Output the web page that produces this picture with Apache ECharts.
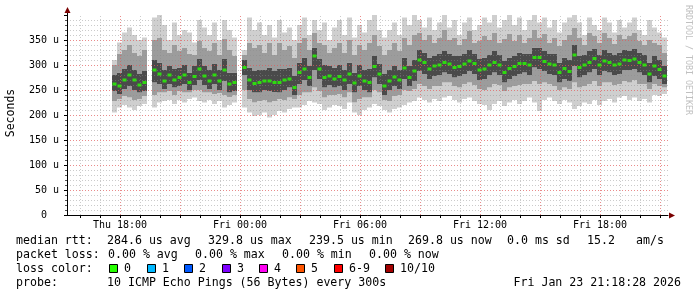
<!DOCTYPE html>
<html><head><meta charset="utf-8">
<script src="https://cdn.jsdelivr.net/npm/echarts@6/dist/echarts.min.js"></script>
<style>html,body{margin:0;padding:0;background:#fff}#c{width:697px;height:297px}</style>
</head><body><div id="c"></div>
<script>
// time of first sample, hours since Thu 00:00; sample step 15 min
const FIRST_SAMPLE_HOUR = 17.725;
const STEP_HOURS = 0.25;

// median RTT (us)
const median = [262,258,270,280,270,260,265,null,290,282,
268,280,270,275,280,265,277,292,278,268,
280,268,290,262,265,null,295,270,263,265,
268,268,265,265,270,272,255,285,292,275,
318,292,275,278,272,277,270,282,264,278,
268,265,297,282,258,268,276,270,294,275,
288,310,305,292,298,300,305,302,295,297,
302,308,303,290,292,300,305,300,285,293,
297,303,303,300,315,315,307,302,300,285,
293,287,320,295,300,305,313,300,308,305,
300,302,310,309,312,305,300,282,298,291,278];
// smoke band edges (us): outer (min/max), middle, inner
const lo1 = [205,215,220,215,210,218,222,null,215,225,
228,230,222,230,225,232,235,228,225,230,
222,228,215,220,225,null,215,205,198,200,
205,195,200,208,205,212,215,215,220,228,
225,222,210,215,220,218,212,225,205,200,
210,215,222,218,210,205,212,215,220,225,
228,235,230,225,232,228,235,238,230,225,
232,235,228,222,220,210,222,228,218,225,
230,222,228,235,225,208,230,235,228,222,
230,225,212,218,225,222,230,220,228,232,
225,235,238,230,235,228,232,225,240,238,242];
const lo2 = [228,232,238,235,230,232,238,null,240,245,
245,248,240,248,245,245,250,250,245,245,
242,244,240,236,240,null,250,232,225,228,
230,225,228,232,230,235,232,240,245,245,
255,248,235,240,240,242,235,245,225,232,
235,235,250,245,230,228,238,240,250,248,
252,262,258,252,258,258,265,265,258,255,
262,265,260,252,250,255,262,260,248,255,
258,260,262,262,268,262,265,262,258,250,
255,252,265,255,258,262,268,258,265,265,
260,262,268,265,270,262,262,252,262,258,255];
const lo3 = [248,242,252,258,250,245,248,null,265,262,
252,262,255,258,262,250,260,270,260,252,
262,250,268,245,248,null,280,250,245,245,
250,248,246,245,250,255,240,262,270,258,
290,272,255,260,255,258,250,262,245,258,
250,245,275,262,240,250,258,252,272,258,
268,288,282,272,278,280,285,282,275,278,
282,288,282,270,272,280,285,280,265,272,
278,282,285,280,295,292,288,282,280,265,
272,268,298,275,280,285,292,280,288,285,
280,282,290,290,292,285,280,265,278,272,262];
const hi3 = [280,285,292,300,290,282,288,null,310,305,
290,298,292,295,300,285,298,312,298,290,
302,290,312,285,285,null,310,295,288,290,
290,295,288,292,292,295,278,305,315,298,
335,312,300,298,295,300,290,305,285,300,
290,292,318,302,282,290,298,290,315,298,
310,330,325,315,318,322,328,322,318,318,
322,330,322,312,315,320,328,320,308,315,
318,325,322,322,335,335,328,322,322,305,
315,310,340,318,320,328,332,320,330,325,
320,325,330,328,332,325,320,305,318,310,298];
const hi2 = [300,322,330,340,325,318,330,null,350,355,
330,325,340,328,335,322,320,348,335,328,
345,320,352,330,318,null,320,345,335,340,
325,345,320,345,330,338,315,345,355,330,
365,345,340,325,335,345,325,350,320,340,
330,345,360,338,320,330,345,328,355,340,
360,365,350,360,345,355,370,350,355,340,
352,368,345,348,358,350,365,345,352,362,
348,360,345,355,370,355,362,345,355,338,
350,360,375,355,340,365,358,345,365,355,
342,360,352,358,365,348,340,350,345,340,325];
const hi1 = [310,345,365,375,360,350,355,null,395,400,
380,350,385,360,370,365,345,390,375,360,
385,350,390,370,355,null,330,395,370,385,
360,380,355,390,365,375,350,380,395,360,
390,370,385,350,375,390,360,395,355,380,
365,390,400,370,355,370,385,360,395,380,
400,390,375,395,370,385,400,375,390,360,
385,395,370,380,395,385,400,375,390,400,
380,395,370,390,400,385,395,375,390,365,
385,395,400,385,360,395,380,370,395,385,
365,390,375,385,395,370,360,390,375,365,355];

const xLabelHours = [18, 24, 30, 36, 42];
const xLabelTexts = ['Thu 18:00', 'Fri 00:00', 'Fri 06:00', 'Fri 12:00', 'Fri 18:00'];
const X_MIN = 15.35, X_MAX = 45.4;

const legendRtt = ['284.6 us avg', '329.8 us max', '239.5 us min', '269.8 us now', '0.0 ms sd', '15.2', 'am/s'];
const legendLoss = ['0.00 % avg', '0.00 % max', '0.00 % min', '0.00 % now'];
const lossLabels = ['0', '1', '2', '3', '4', '5', '6-9', '10/10'];
const lossColors = ['#26ff00', '#00b8ff', '#0059ff', '#7e00ff', '#ff00f3', '#ff5500', '#ff0000', '#a10000'];
const probeText = '10 ICMP Echo Pings (56 Bytes) every 300s';
const stampText = 'Fri Jan 23 21:18:28 2026';

const MONO = '"DejaVu Sans Mono", monospace';
const W = 697, H = 297;
const GRID = {left: 67, right: 29, top: 15, bottom: 82};
const plotW = W - GRID.left - GRID.right;
const pxPerHour = plotW / (X_MAX - X_MIN);
// sample slots: a category axis laid exactly over the sampled time span
const slotCats = median.map((_, i) => FIRST_SAMPLE_HOUR + i * STEP_HOURS);
const slotLeft = GRID.left + (FIRST_SAMPLE_HOUR - STEP_HOURS / 2 - X_MIN) * pxPerHour;
const slotWidth = median.length * STEP_HOURS * pxPerHour;

const val = arr => arr.map(v => v == null ? '-' : v);
const dif = (a, b) => a.map((v, i) => (v == null || b[i] == null) ? '-' : v - b[i]);

const hours = [];
for (let h = Math.ceil(X_MIN); h <= X_MAX; h++) hours.push(h);

const bandColors = {light: '#cfcfcf', mid: '#9c9c9c', dark: '#4a4a4a'};
function band(data, color) {
  return {type: 'bar', stack: 'smoke', data, xAxisIndex: 1, yAxisIndex: 1,
    barWidth: '100%', barCategoryGap: 0, silent: true, z: 2,
    itemStyle: {color}, emphasis: {disabled: true}, animation: false};
}

const chart = echarts.init(document.getElementById('c'), null, {renderer: 'canvas'});

const textEl = (text, x, y, opts) => Object.assign({
  type: 'text', x, y, silent: true,
  style: {text, font: '11.6px ' + MONO, fill: '#000', align: 'left', verticalAlign: 'middle'}
}, opts || {});

const graphics = [];
const rttX = [107, 208, 309, 408, 507, 587, 636];
graphics.push(textEl('median rtt:', 16, 241));
legendRtt.forEach((t, i) => graphics.push(textEl(t, rttX[i], 241)));
const lossX = [108, 195, 282, 369];
graphics.push(textEl('packet loss:', 16, 255));
legendLoss.forEach((t, i) => graphics.push(textEl(t, lossX[i], 255)));
graphics.push(textEl('loss color:', 16, 269));
const sqX = [109, 147, 184, 222, 259, 296, 334, 385];
lossLabels.forEach((t, i) => {
  graphics.push({type: 'rect', silent: true, shape: {x: sqX[i] + 0.5, y: 264.5, width: 8, height: 8},
    style: {fill: lossColors[i], stroke: '#000', lineWidth: 1}});
  graphics.push(textEl(t, sqX[i] + 15, 269));
});
graphics.push(textEl('probe:', 16, 283));
graphics.push(textEl(probeText, 107, 283));
graphics.push({type: 'text', x: 681, y: 283, silent: true,
  style: {text: stampText, font: '11.6px ' + MONO, fill: '#000', align: 'right', verticalAlign: 'middle'}});
graphics.push({type: 'text', x: 11, y: 113, rotation: Math.PI / 2, silent: true,
  style: {text: 'Seconds', font: '11.5px ' + MONO, fill: '#000', align: 'center', verticalAlign: 'middle'}});
graphics.push({type: 'text', x: 688, y: 5, rotation: -Math.PI / 2, silent: true,
  style: {text: 'RRDTOOL / TOBI OETIKER', font: '8.3px ' + MONO, fill: '#c0c0c0', align: 'left', verticalAlign: 'middle'}});
graphics.push({type: 'line', silent: true, shape: {x1: 67.5, y1: 15, x2: 67.5, y2: 11}, style: {stroke: '#000', lineWidth: 1}});
graphics.push({type: 'polygon', silent: true, shape: {points: [[67.5, 7], [64.5, 13], [70.5, 13]]}, style: {fill: '#7a0000'}});
graphics.push({type: 'polygon', silent: true, shape: {points: [[675, 215.5], [669, 212.5], [669, 218.5]]}, style: {fill: '#7a0000'}});

const gridMajor = {color: 'rgba(225,90,90,0.7)', type: [1, 2], width: 1};
const gridMinor = {color: 'rgba(140,140,140,0.45)', type: [1, 2], width: 1};

const option = {
  backgroundColor: '#ffffff',
  animation: false,
  grid: [
    {left: GRID.left, right: GRID.right, top: GRID.top, bottom: GRID.bottom, containLabel: false},
    {left: slotLeft, width: slotWidth, top: GRID.top, bottom: GRID.bottom, containLabel: false}
  ],
  xAxis: [{
    type: 'value', min: X_MIN, max: X_MAX, gridIndex: 0, z: 4,
    axisLine: {show: true, lineStyle: {color: '#000', width: 1}},
    axisTick: {show: true, customValues: hours, length: 3, lineStyle: {color: '#000'}},
    axisLabel: {customValues: xLabelHours, margin: 5,
      formatter: v => xLabelTexts[xLabelHours.indexOf(Math.round(v))] || '',
      fontFamily: MONO, fontSize: 10, color: '#000'},
    splitLine: {show: false}
  }, {
    type: 'category', data: slotCats, gridIndex: 1, boundaryGap: true, show: false
  }],
  yAxis: [{
    type: 'value', min: 0, max: 400, interval: 50, gridIndex: 0, z: 4,
    axisLine: {show: true, lineStyle: {color: '#000', width: 1}},
    axisTick: {show: true, length: 3, lineStyle: {color: '#000'}},
    minorTick: {show: true, splitNumber: 5, length: 2, lineStyle: {color: '#555'}},
    axisLabel: {margin: 8, fontFamily: MONO, fontSize: 10, color: '#000',
      formatter: v => v === 0 ? '0  ' : (v >= 400 ? '' : v + ' u')},
    splitLine: {show: true, showMaxLine: false, lineStyle: gridMajor},
    minorSplitLine: {show: true, lineStyle: gridMinor}
  }, {
    type: 'value', min: 0, max: 400, gridIndex: 1, show: false, splitLine: {show: false}
  }],
  series: [
    {type: 'line', data: [[X_MIN, null]], showSymbol: false, silent: true, z: 4,
      xAxisIndex: 0, yAxisIndex: 0, lineStyle: {opacity: 0, width: 0},
      markLine: {silent: true, symbol: ['none', 'none'], label: {show: false}, animation: false,
        emphasis: {disabled: true},
        data: hours.map(h => ({xAxis: h, lineStyle: h % 3 === 0 ? gridMajor : gridMinor}))}},
    band(val(lo1), 'rgba(0,0,0,0)'),
    band(dif(lo2, lo1), bandColors.light),
    band(dif(lo3, lo2), bandColors.mid),
    band(dif(hi3, lo3), bandColors.dark),
    band(dif(hi2, hi3), bandColors.mid),
    band(dif(hi1, hi2), bandColors.light),
    {type: 'scatter', data: val(median), xAxisIndex: 1, yAxisIndex: 1, symbol: 'rect', symbolSize: [4, 3],
      silent: true, z: 5, itemStyle: {color: lossColors[0]}, emphasis: {disabled: true}}
  ],
  graphic: graphics
};
chart.setOption(option);
</script></body></html>
